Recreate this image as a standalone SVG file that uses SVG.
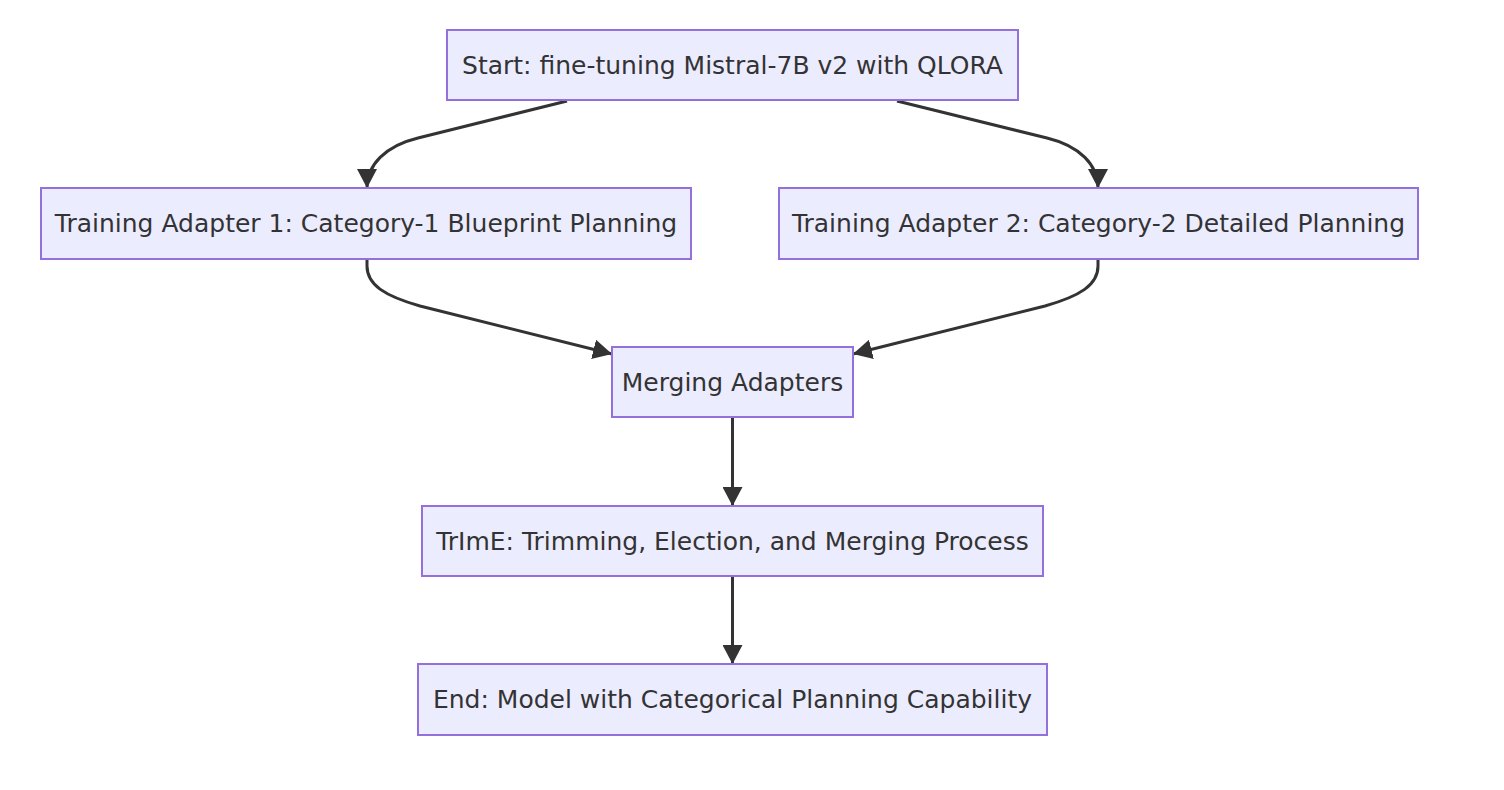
<svg xmlns="http://www.w3.org/2000/svg" width="1504" height="790" viewBox="0 0 1504 790">
<style>
.node rect{fill:#ECECFF;stroke:#9370DB;stroke-width:2}
.node text{font-family:"DejaVu Sans",sans-serif;font-size:25px;fill:#333;text-anchor:middle;dominant-baseline:central}
.edge{fill:none;stroke:#333;stroke-width:3}
</style>
<defs>
<marker id="arrow" viewBox="0 0 19 20" refX="19" refY="10" markerWidth="19" markerHeight="20" markerUnits="userSpaceOnUse" orient="auto">
<path d="M0,0 L19,10 L0,20 z" fill="#333"/>
</marker>
</defs>
<rect width="1504" height="790" fill="#fff"/>
<g id="connectors">
<path class="edge" marker-end="url(#arrow)" d="M567,101 L418,138 C385,146 367,165 367,188"/>
<path class="edge" marker-end="url(#arrow)" d="M897,101 L1047,138 C1080,146 1098,165 1098,188"/>
<path class="edge" marker-end="url(#arrow)" d="M367,259 L367,266 C367,285 385,296 420,306 L612,354"/>
<path class="edge" marker-end="url(#arrow)" d="M1098,259 L1098,266 C1098,285 1080,296 1045,306 L853,354"/>
<path class="edge" marker-end="url(#arrow)" d="M732.5,417 L732.5,506"/>
<path class="edge" marker-end="url(#arrow)" d="M732.5,576 L732.5,664"/>
</g>
<g id="start" class="node"><rect x="447" y="30" width="571" height="70"/><text x="732.5" y="65">Start: fine-tuning Mistral-7B v2 with QLORA</text></g>
<g id="ta1" class="node"><rect x="41" y="188" width="650" height="71"/><text x="366" y="223.5">Training Adapter 1: Category-1 Blueprint Planning</text></g>
<g id="ta2" class="node"><rect x="779" y="188" width="639" height="71"/><text x="1098.5" y="223.5">Training Adapter 2: Category-2 Detailed Planning</text></g>
<g id="merge" class="node"><rect x="612" y="347" width="241" height="70"/><text x="732.5" y="382">Merging Adapters</text></g>
<g id="trime" class="node"><rect x="422" y="506" width="621" height="70"/><text x="732.5" y="541">TrImE: Trimming, Election, and Merging Process</text></g>
<g id="end" class="node"><rect x="418" y="664" width="629" height="71"/><text x="732.5" y="699.5">End: Model with Categorical Planning Capability</text></g>
</svg>
